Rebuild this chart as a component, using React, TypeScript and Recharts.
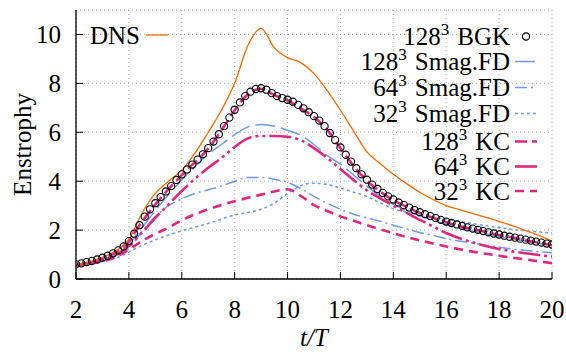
import React from 'react';
import { LineChart, Line, XAxis, YAxis, CartesianGrid } from 'recharts';

// time axis for the line series (t/T)
const tLines = [2, 2.5, 3, 3.5, 4, 4.5, 5, 5.5, 6, 6.5, 7, 7.5, 8, 8.5, 9, 9.5, 10, 10.5, 11, 11.5, 12, 12.5, 13, 13.5, 14, 14.5, 15, 15.5, 16, 16.5, 17, 17.5, 18, 18.5, 19, 19.5, 20];

const dns = [0.55, 0.7, 0.88, 1.15, 1.62, 2.7, 3.5, 4.0, 4.45, 5.15, 6.0, 6.9, 8.0, 9.55, 10.25, 9.45, 9.05, 8.85, 8.4, 7.7, 6.9, 6.05, 5.2, 4.72, 4.28, 3.9, 3.55, 3.25, 3.0, 2.84, 2.68, 2.52, 2.36, 2.18, 1.98, 1.78, 1.55];
const smag128 = [0.55, 0.66, 0.8, 1.02, 1.45, 2.1, 2.8, 3.45, 4.05, 4.6, 5.1, 5.5, 5.9, 6.22, 6.32, 6.25, 6.08, 5.88, 5.5, 5.05, 4.7, 4.25, 3.8, 3.38, 3.05, 2.8, 2.6, 2.4, 2.23, 2.08, 1.96, 1.85, 1.74, 1.64, 1.55, 1.46, 1.37];
const smag64 = [0.55, 0.63, 0.75, 0.92, 1.25, 1.95, 2.55, 3.0, 3.28, 3.5, 3.65, 3.8, 4.0, 4.15, 4.15, 4.08, 3.95, 3.7, 3.38, 3.1, 2.85, 2.65, 2.5, 2.36, 2.2, 2.05, 1.9, 1.78, 1.65, 1.55, 1.47, 1.38, 1.3, 1.23, 1.17, 1.12, 1.07];
const smag32 = [0.55, 0.62, 0.72, 0.85, 1.1, 1.38, 1.6, 1.8, 1.97, 2.12, 2.27, 2.45, 2.62, 2.72, 2.85, 3.1, 3.5, 3.82, 3.92, 3.86, 3.72, 3.55, 3.37, 3.12, 2.88, 2.72, 2.62, 2.52, 2.45, 2.36, 2.27, 2.18, 2.1, 2.03, 1.97, 1.92, 1.88];
const kc128 = [0.55, 0.68, 0.85, 1.1, 1.55, 2.35, 3.05, 3.68, 4.25, 4.78, 5.33, 6.08, 6.9, 7.55, 7.78, 7.52, 7.3, 6.98, 6.62, 6.1, 5.35, 4.62, 4.02, 3.58, 3.22, 2.95, 2.7, 2.5, 2.32, 2.16, 2.04, 1.92, 1.8, 1.7, 1.58, 1.48, 1.38];
const kc64 = [0.55, 0.64, 0.78, 0.98, 1.35, 1.9, 2.5, 3.05, 3.6, 4.1, 4.55, 4.95, 5.4, 5.75, 5.85, 5.85, 5.82, 5.68, 5.35, 4.95, 4.5, 4.05, 3.62, 3.3, 3.0, 2.7, 2.42, 2.15, 1.88, 1.67, 1.5, 1.35, 1.23, 1.13, 1.05, 0.98, 0.92];
const kc32 = [0.55, 0.62, 0.72, 0.9, 1.2, 1.55, 1.85, 2.1, 2.4, 2.65, 2.85, 3.03, 3.18, 3.32, 3.45, 3.58, 3.67, 3.4, 3.02, 2.78, 2.56, 2.38, 2.2, 2.03, 1.87, 1.72, 1.58, 1.45, 1.33, 1.22, 1.12, 1.03, 0.95, 0.87, 0.8, 0.72, 0.65];

// BGK output is denser (circles)
const tBgk = [2, 2.2, 2.4, 2.6, 2.8, 3, 3.2, 3.4, 3.6, 3.8, 4, 4.2, 4.4, 4.6, 4.8, 5, 5.2, 5.4, 5.6, 5.8, 6, 6.2, 6.4, 6.6, 6.8, 7, 7.2, 7.4, 7.6, 7.8, 8, 8.2, 8.4, 8.6, 8.8, 9, 9.2, 9.4, 9.6, 9.8, 10, 10.2, 10.4, 10.6, 10.8, 11, 11.2, 11.4, 11.6, 11.8, 12, 12.2, 12.4, 12.6, 12.8, 13, 13.2, 13.4, 13.6, 13.8, 14, 14.2, 14.4, 14.6, 14.8, 15, 15.2, 15.4, 15.6, 15.8, 16, 16.2, 16.4, 16.6, 16.8, 17, 17.2, 17.4, 17.6, 17.8, 18, 18.2, 18.4, 18.6, 18.8, 19, 19.2, 19.4, 19.6, 19.8, 20];
const bgk = [0.6, 0.64, 0.69, 0.74, 0.8, 0.87, 0.95, 1.05, 1.17, 1.33, 1.55, 1.85, 2.2, 2.55, 2.85, 3.1, 3.35, 3.58, 3.8, 4.05, 4.28, 4.48, 4.68, 4.88, 5.1, 5.35, 5.62, 5.92, 6.25, 6.6, 6.92, 7.22, 7.48, 7.66, 7.77, 7.8, 7.74, 7.6, 7.48, 7.4, 7.33, 7.25, 7.12, 6.98, 6.82, 6.66, 6.48, 6.25, 5.97, 5.68, 5.38, 5.08, 4.8, 4.53, 4.28, 4.06, 3.86, 3.68, 3.52, 3.38, 3.25, 3.13, 3.02, 2.92, 2.82, 2.73, 2.65, 2.57, 2.49, 2.42, 2.35, 2.29, 2.23, 2.17, 2.11, 2.06, 2.01, 1.96, 1.91, 1.86, 1.82, 1.77, 1.73, 1.69, 1.65, 1.61, 1.57, 1.53, 1.49, 1.45, 1.41];

const xTicks = [2, 4, 6, 8, 10, 12, 14, 16, 18, 20];
const yTicks = [0, 2, 4, 6, 8, 10];

const ORANGE = '#ff6a00';
const BLUE = '#6b9bf2';
const PINK = '#e0287e';
const FONT = '"Liberation Serif", "Times New Roman", serif';
const FS = 25;

const toRows = (xs: number[], ys: number[]) => xs.map((t, i) => ({ t, v: ys[i] }));

const series = [
  { key: 'smag128', label: '128', name: 'Smag.FD', data: smag128, color: BLUE, width: 1.5, dash: '20 6' },
  { key: 'smag64', label: '64', name: 'Smag.FD', data: smag64, color: BLUE, width: 1.5, dash: '12 4 2 4' },
  { key: 'smag32', label: '32', name: 'Smag.FD', data: smag32, color: BLUE, width: 1.5, dash: '3 3' },
  { key: 'kc128', label: '128', name: 'KC', data: kc128, color: PINK, width: 2.6, dash: '12 5' },
  { key: 'kc64', label: '64', name: 'KC', data: kc64, color: PINK, width: 2.6, dash: '22 4 3 4 3 4' },
  { key: 'kc32', label: '32', name: 'KC', data: kc32, color: PINK, width: 2.6, dash: '9 6' },
];

const Sup: React.FC<{ base: string; rest: string }> = ({ base, rest }) => (
  <>
    <tspan>{base}</tspan>
    <tspan dy={-10} fontSize={17}>3</tspan>
    <tspan dy={10} dx={8}>{rest}</tspan>
  </>
);

const XTick = (props: any) => (
  <text x={props.x} y={props.y + 46} textAnchor="middle" fontFamily={FONT} fontSize={FS} fill="#000">
    {props.payload.value}
  </text>
);

const YTick = (props: any) => (
  <text x={props.x - 22} y={props.y + 8.5} textAnchor="end" fontFamily={FONT} fontSize={FS} fill="#000">
    {props.payload.value}
  </text>
);

const Overlay = () => {
  const rowY = [36.5, 61.5, 87.5, 113.5, 141.5, 166.5, 191];
  return (
    <svg width={566} height={352} style={{ position: 'absolute', left: 0, top: 0, pointerEvents: 'none' }}>
      <g fontFamily={FONT} fontSize={FS} fill="#000">
        <text x={22} y={144.5} transform="rotate(-90 22 144.5)" textAnchor="middle" dominantBaseline="central">Enstrophy</text>
        <text x={314} y={346} textAnchor="middle" fontStyle="italic">t/T</text>
        <text x={90} y={35 + 8.5}>DNS</text>
        <line x1={146} x2={168} y1={35} y2={35} stroke={ORANGE} strokeWidth={1.3} />
        <text x={510} y={rowY[0] + 8.5} textAnchor="end">
          <Sup base="128" rest="BGK" />
        </text>
        <circle cx={526} cy={rowY[0]} r={3.6} fill="none" stroke="#000" strokeWidth={1.1} />
        {series.map((s, i) => (
          <g key={s.key}>
            <text x={510} y={rowY[i + 1] + 8.5} textAnchor="end">
              <Sup base={s.label} rest={s.name} />
            </text>
            <line x1={515} x2={537} y1={rowY[i + 1]} y2={rowY[i + 1]} stroke={s.color} strokeWidth={s.width} strokeDasharray={s.dash} />
          </g>
        ))}
      </g>
    </svg>
  );
};

export default function App() {
  const axisLine = { stroke: '#000', strokeWidth: 1.3 };
  const tickLine = { stroke: '#000', strokeWidth: 1 };
  return (
    <div style={{ position: 'absolute', left: 0, top: 0, width: 566, height: 352, background: '#fff' }}>
      <LineChart width={566} height={352} margin={{ top: 10, right: 14, left: 0, bottom: 0 }}>
        <CartesianGrid stroke="#aaa" strokeDasharray="1 3" xAxisId="b" yAxisId="l" />
        <XAxis xAxisId="b" dataKey="t" type="number" domain={[2, 20]} ticks={xTicks} allowDataOverflow
          height={73} tick={<XTick />} tickSize={-7} tickMargin={0} axisLine={axisLine} tickLine={tickLine} />
        <XAxis xAxisId="top" orientation="top" dataKey="t" type="number" domain={[2, 20]} ticks={xTicks}
          height={0} tick={false} tickSize={-7} axisLine={axisLine} tickLine={tickLine} />
        <YAxis yAxisId="l" type="number" domain={[0, 11]} ticks={yTicks} allowDataOverflow
          width={76} tick={<YTick />} tickSize={-7} tickMargin={0} axisLine={axisLine} tickLine={tickLine} />
        <YAxis yAxisId="r" orientation="right" type="number" domain={[0, 11]} ticks={yTicks}
          width={0} tick={false} tickSize={-7} axisLine={axisLine} tickLine={tickLine} />
        <Line xAxisId="b" yAxisId="l" data={toRows(tBgk, bgk)} dataKey="v" stroke="none" isAnimationActive={false}
          dot={{ r: 3.6, stroke: '#000', strokeWidth: 1.1, fill: 'none' }} activeDot={false} />
        {series.map((s) => (
          <Line key={s.key} xAxisId="b" yAxisId="l" data={toRows(tLines, s.data)} dataKey="v" type="monotone"
            stroke={s.color} strokeWidth={s.width} strokeDasharray={s.dash} dot={false} isAnimationActive={false} />
        ))}
        <Line xAxisId="b" yAxisId="l" data={toRows(tLines, dns)} dataKey="v" type="monotone"
          stroke={ORANGE} strokeWidth={1.3} dot={false} isAnimationActive={false} />
      </LineChart>
      <Overlay />
    </div>
  );
}
